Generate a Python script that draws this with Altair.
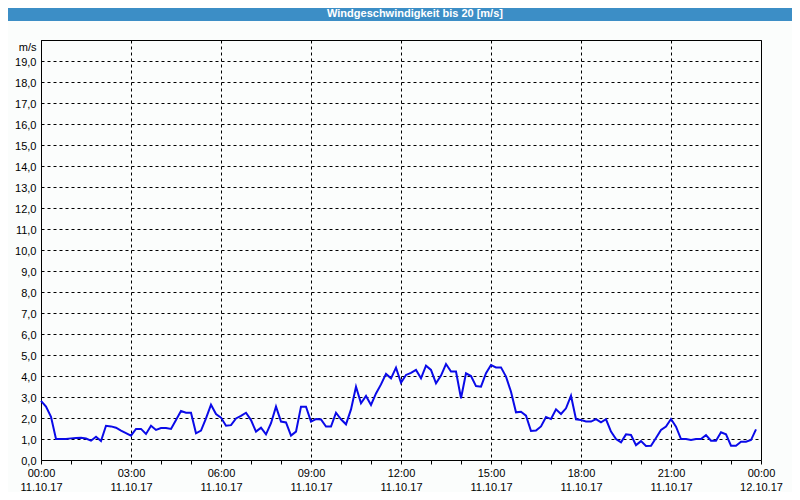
import altair as alt
import pandas as pd

TITLE = "Windgeschwindigkeit bis 20 [m/s]"
START = "2017-10-11 00:00"
STEP_MIN = 10
# wind speed [m/s], one reading every 10 minutes
speed = [
    2.82, 2.54, 2.06, 1.00, 1.00, 1.00, 1.03, 1.05, 1.06, 1.02, 0.92, 1.11,
    0.90, 1.63, 1.60, 1.54, 1.40, 1.28, 1.16, 1.48, 1.48, 1.24, 1.63, 1.43,
    1.52, 1.52, 1.48, 1.90, 2.33, 2.25, 2.25, 1.27, 1.40, 1.98, 2.63, 2.19,
    2.02, 1.63, 1.66, 1.98, 2.10, 2.25, 1.90, 1.35, 1.54, 1.22, 1.75, 2.54,
    1.83, 1.79, 1.16, 1.35, 2.54, 2.54, 1.83, 1.95, 1.93, 1.59, 1.59, 2.25,
    1.94, 1.70, 2.41, 3.49, 2.70, 3.05, 2.62, 3.17, 3.60, 4.10, 3.89, 4.40,
    3.68, 4.05, 4.15, 4.29, 3.89, 4.49, 4.29, 3.65, 4.02, 4.57, 4.21, 4.21,
    2.94, 4.13, 4.00, 3.52, 3.49, 4.13, 4.52, 4.41, 4.41, 3.97, 3.25, 2.27,
    2.30, 2.11, 1.38, 1.40, 1.60, 2.05, 1.95, 2.41, 2.19, 2.46, 3.06, 1.94,
    1.90, 1.83, 1.83, 1.95, 1.79, 1.94, 1.35, 1.00, 0.84, 1.22, 1.19, 0.71,
    0.90, 0.67, 0.68, 1.05, 1.43, 1.59, 1.95, 1.59, 1.00, 1.00, 0.95, 1.00,
    1.00, 1.19, 0.92, 0.92, 1.32, 1.22, 0.68, 0.68, 0.87, 0.87, 0.95, 1.46,
]

times = pd.date_range(START, periods=len(speed), freq=f"{STEP_MIN}min")
df = pd.DataFrame({"t": times.strftime("%Y-%m-%dT%H:%M:%S"), "v": speed})

BLUE_BAR = "#3c8ec6"
LINE_BLUE = "#0a0ae8"
FONT = "Liberation Sans"


def dt(h):
    return alt.DateTime(year=2017, month=10, date=11 + h // 24, hours=h % 24)


hour_ticks = [dt(h) for h in range(25)]
major_ticks = [dt(h) for h in range(0, 25, 3)]

x_scale = alt.Scale(domain=[dt(0), dt(24)])
y_scale = alt.Scale(domain=[0, 20], nice=False)

x_axis_major = alt.Axis(
    orient="bottom",
    title=None,
    values=major_ticks,
    labelExpr="[timeFormat(datum.value, '%H:%M'), timeFormat(datum.value, '%d.%m.%y')]",
    labelOverlap=False,
    labelFlush=False,
    labelPadding=7,
    labelLineHeight=14,
    labelFont=FONT,
    labelFontSize=11,
    labelColor="black",
    grid=True,
    gridColor="black",
    gridDash=[3, 3],
    gridWidth=1,
    ticks=False,
    domain=False,
)

x_axis_minor = alt.Axis(
    orient="bottom",
    title=None,
    values=hour_ticks,
    labels=False,
    grid=False,
    ticks=True,
    tickSize=4,
    tickColor="black",
    domain=False,
)

y_axis = alt.Axis(
    title=None,
    values=list(range(0, 21)),
    labelExpr="datum.value == 20 ? 'm/s' : replace(format(datum.value, '.1f'), '.', ',')",
    labelFont=FONT,
    labelFontSize=11,
    labelColor="black",
    labelPadding=5,
    labelOffset={"condition": {"test": "datum.value == 20", "value": 7}, "value": 1},
    grid=True,
    gridColor="black",
    gridDash=[3, 3],
    gridWidth=1,
    ticks=False,
    domain=False,
)

line = alt.Chart(df).mark_line(color=LINE_BLUE, strokeWidth=2).encode(
    x=alt.X("t:T", scale=x_scale, axis=x_axis_major),
    y=alt.Y("v:Q", scale=y_scale, axis=y_axis),
)

minor = alt.Chart(df).mark_point(opacity=0).encode(
    x=alt.X("t:T", scale=x_scale, axis=x_axis_minor),
)

bar = alt.Chart(pd.DataFrame({"a": [0]})).mark_rect(color=BLUE_BAR).encode(
    x=alt.value(-33), x2=alt.value(751), y=alt.value(-32), y2=alt.value(-19)
)

title = alt.Chart(pd.DataFrame({"t": [TITLE]})).mark_text(
    color="white", font=FONT, fontSize=11, fontWeight="bold",
    align="center", baseline="alphabetic",
).encode(text="t:N", x=alt.value(374), y=alt.value(-23))

chart = (
    alt.layer(bar, title, minor, line)
    .resolve_axis(x="independent")
    .properties(
        width=720,
        height=420,
        padding={"left": 33, "top": 32, "right": 31, "bottom": 32},
        autosize=alt.AutoSizeParams(type="none"),
        background="#fbfdfc",
    )
    .configure_view(stroke="black", strokeWidth=1)
)

chart.save("out.html", embed_options={"renderer": "svg", "actions": False})
